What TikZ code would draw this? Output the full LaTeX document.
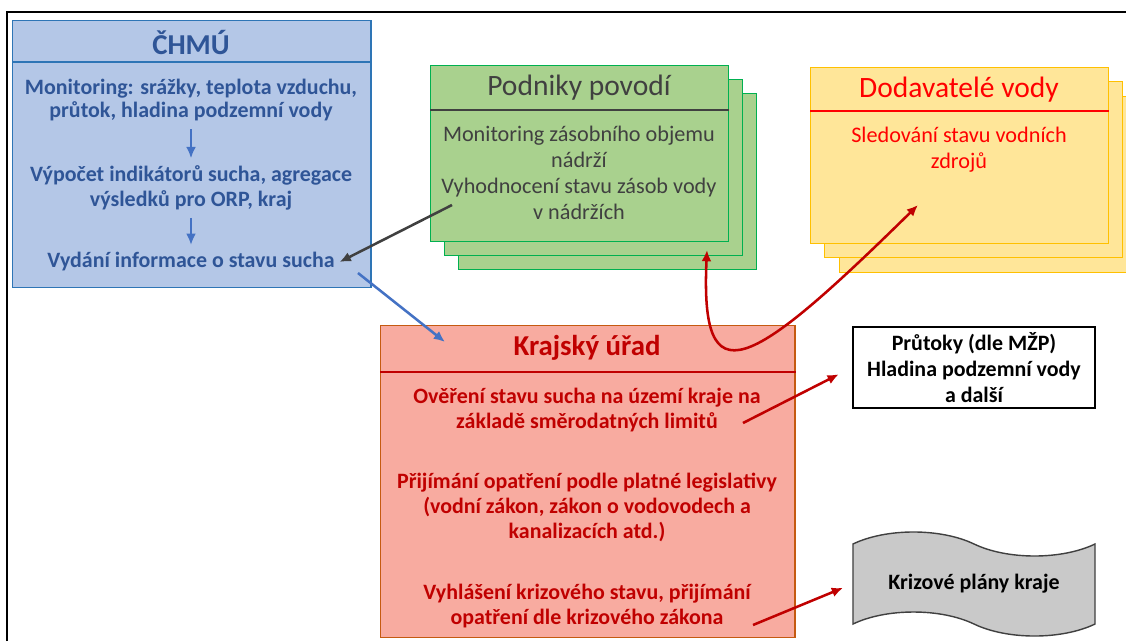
\documentclass[tikz,border=0pt]{standalone}
\usepackage{fontspec}
\setmainfont{Carlito}
\usetikzlibrary{arrows.meta, shapes.symbols}

\definecolor{chmufill}{HTML}{B4C7E7}
\definecolor{chmuline}{HTML}{2E75B6}
\definecolor{chmutext}{HTML}{2F5597}
\definecolor{povodifill}{HTML}{A9D18E}
\definecolor{povodiline}{HTML}{00B050}
\definecolor{povoditext}{HTML}{404040}
\definecolor{dodavfill}{HTML}{FFE699}
\definecolor{dodavline}{HTML}{FFC000}
\definecolor{dodavtext}{HTML}{FF0000}
\definecolor{krajfill}{HTML}{F8ABA0}
\definecolor{krajline}{HTML}{C55A11}
\definecolor{krajtext}{HTML}{C00000}
\definecolor{planyfill}{HTML}{C9C9C9}
\definecolor{bluelink}{HTML}{4472C4}

\begin{document}
\begin{tikzpicture}[
    x=0.025cm, y=-0.025cm,
    >={Latex[length=8pt, width=7pt]},
    box/.style={
        draw,
        rectangle,
        anchor=north west,
        line width=1pt,
        inner sep=0pt
    },
    chmubox/.style={box, fill=chmufill, draw=chmuline,
        minimum width=8.95cm, minimum height=6.675cm},
    povodibox/.style={box, fill=povodifill, draw=povodiline,
        minimum width=7.45cm, minimum height=4.4cm},
    dodavbox/.style={box, fill=dodavfill, draw=dodavline,
        minimum width=7.45cm, minimum height=4.4cm},
    krajbox/.style={box, fill=krajfill, draw=krajline,
        minimum width=10.35cm, minimum height=7.8cm},
    title/.style={font=\fontsize{21}{25}\selectfont},
    btitle/.style={font=\fontsize{20.5}{25}\selectfont\bfseries},
    body/.style={align=center, font=\fontsize{15.8}{18.4}\selectfont},
    bbody/.style={align=center, font=\fontsize{15.6}{17.8}\selectfont\bfseries},
    arrow/.style={->, line width=1.8pt}
]

% outer frame
\useasboundingbox (0,0) rectangle (1126,641);
\draw[line width=1.2pt] (7,641) -- (7,12) -- (1126,12);

% CHMU
\node[chmubox] (chmu) at (12,20) {};
\draw[chmuline, line width=1pt] (chmu.west |- 0,62) -- (chmu.east |- 0,62);
\node[btitle, text=chmutext] (chmuT) at (191,42) {ČHMÚ};
\node[bbody, text=chmutext, font=\fontsize{15.6}{17}\selectfont\bfseries] (monit) at (191,100)
    {Monitoring: srážky, teplota vzduchu,\\průtok, hladina podzemní vody};
\node[bbody, text=chmutext, font=\fontsize{15.6}{17.5}\selectfont\bfseries] (vypocet) at (191,188)
    {Výpočet indikátorů sucha, agregace\\výsledků pro ORP, kraj};
\node[bbody, text=chmutext] (vydani) at (191,262) {Vydání informace o stavu sucha};
\draw[->, bluelink, line width=1.2pt, shorten <=2pt, shorten >=2pt] (monit) -- (vypocet);
\draw[->, bluelink, line width=1.2pt, shorten <=2pt, shorten >=2pt] (vypocet) -- (vydani);

% Podniky povodi
\foreach \d in {28,14,0}
    \node[povodibox] (povodi\d) at (430+\d,65+\d) {};
\draw[povoditext, line width=1pt] (povodi0.west |- 0,110) -- (povodi0.east |- 0,110);
\node[title, text=povoditext] (povodiT) at (579,88) {Podniky povodí};
\node[body, text=povoditext] (povodiB) at (579,173)
    {Monitoring zásobního objemu\\nádrží\\Vyhodnocení stavu zásob vody\\v nádržích};

% Dodavatele vody
\foreach \d in {29,14,0}
    \node[dodavbox] (dodav\d) at (810+\d,67+\d) {};
\draw[dodavtext, line width=1pt] (dodav0.west |- 0,111) -- (dodav0.east |- 0,111);
\node[title, text=dodavtext] (dodavT) at (959,90) {Dodavatelé vody};
\node[body, text=dodavtext] (dodavB) at (959,150) {Sledování stavu vodních\\zdrojů};

% Krajsky urad
\node[krajbox] (kraj) at (380,325) {};
\draw[krajtext, line width=1pt] (kraj.west |- 0,372) -- (kraj.east |- 0,372);
\node[btitle, text=krajtext] (krajT) at (587,348) {Krajský úřad};
\node[bbody, text=krajtext] (overeni) at (587,410)
    {Ověření stavu sucha na území kraje na\\základě směrodatných limitů};
\node[bbody, text=krajtext] (prijimani) at (587,507)
    {Přijímání opatření podle platné legislativy\\(vodní zákon, zákon o vodovodech a\\kanalizacích atd.)};
\node[bbody, text=krajtext] (vyhlaseni) at (587,606)
    {Vyhlášení krizového stavu, přijímání\\opatření dle krizového zákona};

% right side
\node[draw, line width=1.2pt, fill=white, minimum width=6.05cm, minimum height=2.025cm,
    bbody, font=\fontsize{15.6}{18.5}\selectfont\bfseries] (prutoky) at (974,367.5)
    {Průtoky (dle MŽP)\\Hladina podzemní vody\\a další};
\node[tape, draw=povoditext, line width=1pt, fill=planyfill, minimum width=6.05cm,
    minimum height=2.6cm, tape bend top=out and in, tape bend bottom=out and in,
    tape bend height=0.6cm, bbody] (plany) at (974,584) {Krizové plány kraje};

% connectors
\coordinate (g1) at (452,205);
\draw[arrow, povoditext] (g1) -- (vydani.east);
\coordinate (b1) at (358,273);
\coordinate (b2) at (445,342);
\draw[arrow, bluelink] (b1) -- (b2);
\coordinate (r1) at (707,250);
\coordinate (r2) at (918,205);
\draw[arrow, krajtext, <->] (r1) .. controls (700,400) and (748,372) .. (r2);
\coordinate (o1) at (743,423);
\draw[arrow, krajtext, shorten >=0.375cm] (o1) -- (prutoky.west);
\coordinate (v1) at (753,625);
\draw[arrow, krajtext, shorten >=0.25cm] (v1) -- (plany.west);

\end{tikzpicture}
\end{document}
